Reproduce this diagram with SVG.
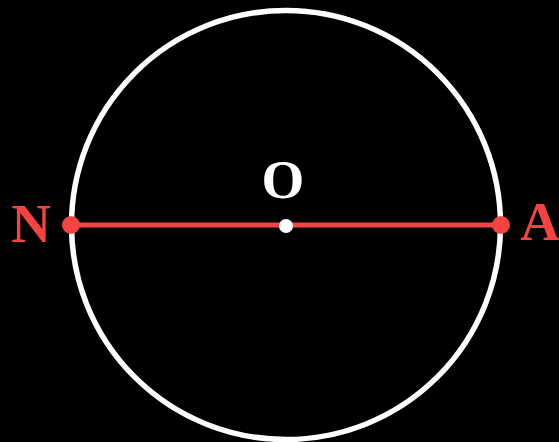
<svg xmlns="http://www.w3.org/2000/svg" width="559" height="442" viewBox="0 0 559 442">
<style>
.lbl{font-family:'Times New Roman','Liberation Serif',serif;font-weight:700;font-size:55px}
.red{fill:#f44343}
</style>
<rect width="559" height="442" fill="#000"/>
<g id="circle"><circle cx="286" cy="225" r="214.5" fill="none" stroke="#fff" stroke-width="5.5"/></g>
<g id="connectors"><line x1="71" y1="225" x2="501" y2="225" stroke="#f44343" stroke-width="5"/></g>
<g id="N"><circle class="red" cx="71" cy="225" r="9"/><text class="lbl red" x="31" y="242" text-anchor="middle">N</text></g>
<g id="A"><circle class="red" cx="501" cy="225" r="9"/><text class="lbl red" x="540" y="240" text-anchor="middle">A</text></g>
<g id="O"><circle cx="286" cy="226" r="7" fill="#fff"/><text class="lbl" x="283" y="198" text-anchor="middle" fill="#fff">O</text></g>
</svg>
